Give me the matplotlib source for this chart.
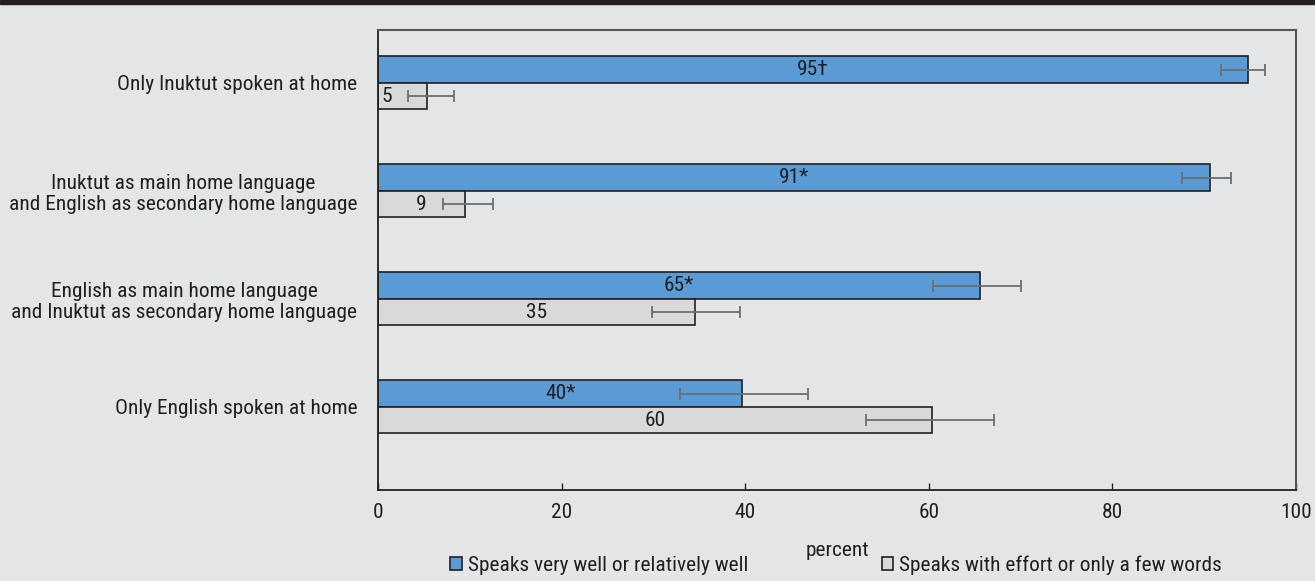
import matplotlib
matplotlib.use("Agg")
import matplotlib.pyplot as plt
from matplotlib import font_manager
import numpy as np

# pick a condensed sans if one is installed
installed = {f.name for f in font_manager.fontManager.ttflist}
narrow = [n for n in ['Roboto Condensed', 'Liberation Sans Narrow', 'Archivo Narrow',
                      'PT Sans Narrow', 'Asap Condensed'] if n in installed]
plt.rcParams['font.family'] = narrow[:1] + ['DejaVu Sans']

# ------------------------------------------------------------
# data
categories = ['Only Inuktut spoken at home',
              'Inuktut as main home language\nand English as secondary home language',
              'English as main home language\nand Inuktut as secondary home language',
              'Only English spoken at home']

well = [94.8, 90.6, 65.6, 39.7]
well_lo = [91.8, 87.6, 60.5, 32.9]
well_hi = [96.6, 92.9, 70.0, 46.8]
well_labels = ['95\u2020', '91*', '65*', '40*']

effort = [5.3, 9.5, 34.5, 60.3]
effort_lo = [3.3, 7.1, 29.9, 53.2]
effort_hi = [8.3, 12.5, 39.4, 67.1]
effort_labels = ['5', '9', '35', '60']

legend_labels = ['Speaks very well or relatively well',
                 'Speaks with effort or only a few words']

# ------------------------------------------------------------
bg = '#e4e5e7'
blue = '#5b9bd5'
grey = '#d9d9d9'
edge = '#231f20'
errc = '#6d6e70'
fs = 15.4

fig = plt.figure(figsize=(13.15, 5.81), dpi=100, facecolor=bg)
ax = fig.add_axes([378 / 1315, 1 - 490 / 581, (1296 - 378) / 1315, 460 / 581])
ax.set_facecolor(bg)

# dark band at the very top
fig.patches.append(plt.Rectangle((0, 1 - 4 / 581), 1, 4 / 581,
                                 transform=fig.transFigure,
                                 color='#231f20', zorder=0))

y = np.arange(len(categories))
h = 0.245

b1 = ax.barh(y - h / 2, well, height=h, color=blue, edgecolor=edge,
             linewidth=1.2, label=legend_labels[0])
b2 = ax.barh(y + h / 2, effort, height=h, color=grey, edgecolor=edge,
             linewidth=1.2, label=legend_labels[1])

well_err = [np.array(well) - np.array(well_lo), np.array(well_hi) - np.array(well)]
eff_err = [np.array(effort) - np.array(effort_lo), np.array(effort_hi) - np.array(effort)]
ax.errorbar(well, y - h / 2, xerr=well_err, fmt='none', ecolor=errc,
            elinewidth=1.3, capsize=4, capthick=1.3)
ax.errorbar(effort, y + h / 2, xerr=eff_err, fmt='none', ecolor=errc,
            elinewidth=1.3, capsize=4, capthick=1.3)

for i in range(len(categories)):
    ax.text(well[i] / 2, y[i] - h / 2, well_labels[i], ha='center',
            va='center', fontsize=fs, color='#231f20')
    if effort[i] < 7:
        ax.text(0.4, y[i] + h / 2, effort_labels[i], ha='left',
                va='center', fontsize=fs, color='#231f20')
    else:
        ax.text(effort[i] / 2, y[i] + h / 2, effort_labels[i], ha='center',
                va='center', fontsize=fs, color='#231f20')

ax.set_xlim(0, 100)
ax.set_ylim(3.77, -0.49)
ax.set_yticks(y)
ax.set_yticklabels(categories, fontsize=fs, color='#231f20', ha='right',
                   multialignment='center', linespacing=1.15)
ax.tick_params(axis='y', length=0, pad=15)
ax.set_xticks([0, 20, 40, 60, 80, 100])
ax.tick_params(axis='x', direction='in', length=5, labelsize=fs,
               colors='#231f20', pad=9, width=1)
ax.set_xlabel('percent', fontsize=fs, color='#231f20', labelpad=14)

for side in ['left', 'bottom']:
    ax.spines[side].set_color('#231f20')
    ax.spines[side].set_linewidth(1.3)
for side in ['top', 'right']:
    ax.spines[side].set_color('#555555')
    ax.spines[side].set_linewidth(1.5)

fig.legend(handles=[b1, b2], labels=legend_labels, ncol=2,
           loc='center', bbox_to_anchor=(836 / 1315, 1 - 565 / 581),
           frameon=False, fontsize=fs, handlelength=0.55, handleheight=0.55,
           handletextpad=0.25, columnspacing=6.25, labelcolor='#231f20',
           borderpad=0.1)

fig.savefig('out.png', dpi=100, facecolor=bg)
